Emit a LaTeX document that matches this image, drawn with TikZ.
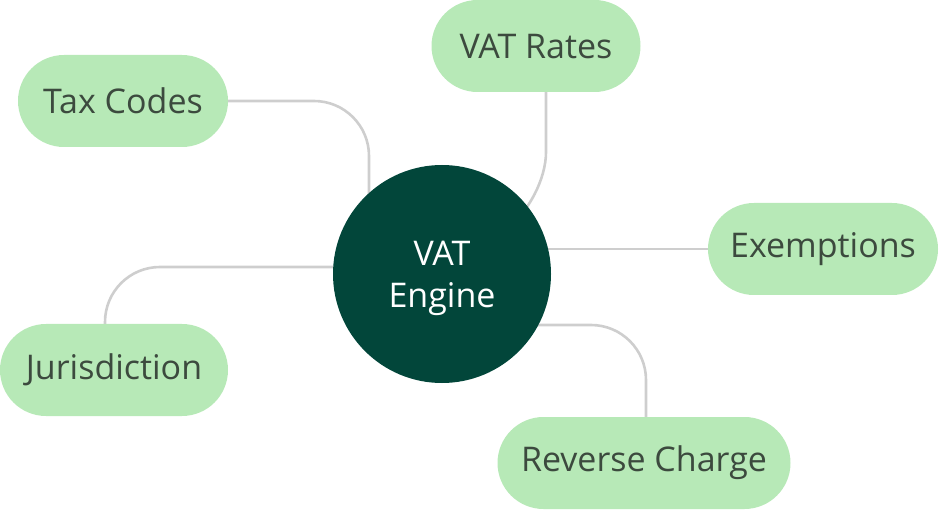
\documentclass[tikz,border=0pt]{standalone}
\usepackage{fontspec}
\setmainfont{Open Sans}
\usetikzlibrary{backgrounds,calc}
\definecolor{darkgreen}{RGB}{2,70,58}
\definecolor{lightgreen}{RGB}{183,233,183}
\definecolor{txtgray}{RGB}{60,74,62}
\definecolor{linegray}{RGB}{206,206,206}
\begin{document}
\begin{tikzpicture}[x=1pt,y=-1pt,
  pill/.style={fill=lightgreen, rounded corners=46pt, minimum height=92pt,
    text=txtgray, font=\fontsize{34}{40}\selectfont, inner sep=0pt},
  hub/.style={circle, fill=darkgreen, minimum size=218pt, inner sep=0pt},
  hublabel/.style={text=white, font=\fontsize{34}{42}\selectfont, align=center, inner sep=0pt},
  link/.style={draw=linegray, line width=2.6pt, rounded corners=55pt}]
\useasboundingbox (0,0) rectangle (939,510);
\node[hub] (c) at (442,274) {};
\node[hublabel] (clabel) at ($(c.center)+(0,4)$) {VAT\\Engine};
\node[pill, minimum width=210pt] (tax) at (123,101) {Tax Codes};
\node[pill, minimum width=209pt] (vr) at (536,46) {VAT Rates};
\node[pill, minimum width=230pt] (ex) at (823,249) {Exemptions};
\node[pill, minimum width=228pt] (jur) at (114,370) {Jurisdiction};
\node[pill, minimum width=293pt] (rc) at (644,463) {Reverse Charge};
\begin{scope}[on background layer]
  \draw[link] (tax.east) -| ($(c.center)+(-73,0)$);
  \draw[link, rounded corners=48pt] ($(vr.south)+(10,0)$) -- ($(vr.south)+(10,108)$) -- (c.center);
  \draw[link] (c.center |- ex.west) -- (ex.west);
  \draw[link] ($(jur.north)+(-9,0)$) |- ($(c.center)+(0,-7)$);
  \draw[link] ($(rc.north)+(2,0)$) |- ($(c.center)+(0,51)$);
\end{scope}
\end{tikzpicture}
\end{document}
